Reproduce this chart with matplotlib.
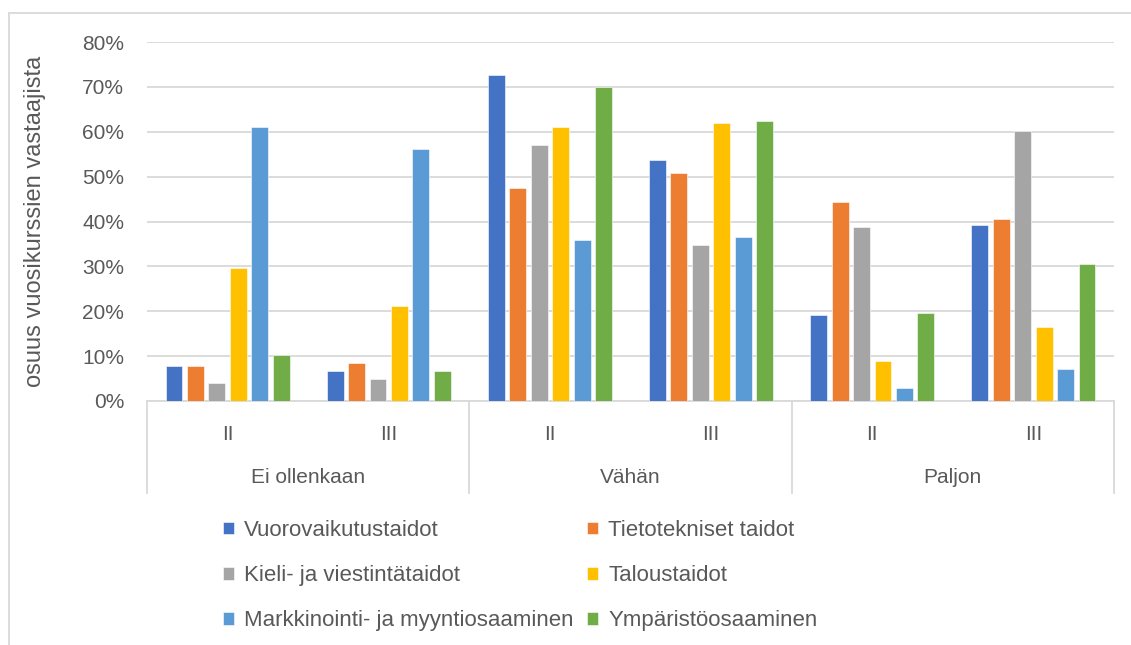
import numpy as np
import matplotlib.pyplot as plt
from matplotlib.lines import Line2D
from matplotlib.ticker import PercentFormatter

plt.rcParams['font.family'] = ['Liberation Sans', 'DejaVu Sans']

groups = ['Ei ollenkaan', 'Vähän', 'Paljon']
subgroups = ['II', 'III']
series = ['Vuorovaikutustaidot', 'Tietotekniset taidot', 'Kieli- ja viestintätaidot',
          'Taloustaidot', 'Markkinointi- ja myyntiosaaminen', 'Ympäristöosaaminen']
colors = ['#4472c4', '#ed7d31', '#a5a5a5', '#ffc000', '#5b9bd5', '#70ad47']

# one row per series, columns: Ei II, Ei III, Vähän II, Vähän III, Paljon II, Paljon III
vuorovaikutus = [7.8, 6.7, 72.7, 53.8, 19.2, 39.2]
tietotekniikka = [7.8, 8.5, 47.4, 50.7, 44.4, 40.6]
kieli = [4.0, 4.8, 57.0, 34.7, 38.8, 60.2]
talous = [29.6, 21.2, 61.1, 62.0, 9.0, 16.6]
markkinointi = [61.1, 56.1, 35.9, 36.6, 2.8, 7.1]
ymparisto = [10.3, 6.7, 70.0, 62.4, 19.5, 30.6]
values = [vuorovaikutus, tietotekniikka, kieli, talous, markkinointi, ymparisto]

txt = '#595959'
grid = '#d9d9d9'

fig = plt.figure(figsize=(11.31, 6.45), dpi=100)
ax = fig.add_axes([147/1131, 1-401/645, 967/1131, 359/645])

n = len(groups) * len(subgroups)
centers = np.arange(n) + 0.5
step = 0.133
width = 0.105
bars = []
for j, (vals, c) in enumerate(zip(values, colors)):
    b = ax.bar(centers + (j - 2.5) * step, vals, width=width, color=c,
               edgecolor='white', linewidth=0.4, zorder=3)
    bars.append(b)

ax.set_xlim(0, n)
ax.set_ylim(0, 80)
ax.set_yticks(np.arange(0, 81, 10))
ax.yaxis.set_major_formatter(PercentFormatter(decimals=0))
ax.tick_params(axis='y', length=0, pad=16.5, labelsize=15, labelcolor=txt)
ax.set_xticks([])
ax.grid(axis='y', color=grid, linewidth=1.3, zorder=0)
for s in ['top', 'right', 'left']:
    ax.spines[s].set_visible(False)
ax.spines['bottom'].set_color(grid)
ax.spines['bottom'].set_linewidth(1.3)

ax.set_ylabel('osuus vuosikurssien vastaajista', fontsize=17, color=txt)
ax.yaxis.set_label_coords(-0.1044, 0.5)

# two-level category axis
tr = ax.get_xaxis_transform()
for x in [0, 2, 4, 6]:
    ax.add_line(Line2D([x, x], [0, -0.256], transform=tr, color=grid,
                       linewidth=1.3, clip_on=False))
for i in range(n):
    ax.text(centers[i], -0.092, subgroups[i % 2], transform=tr, ha='center',
            va='center', fontsize=15, color=txt)
for g, name in enumerate(groups):
    ax.text(2 * g + 1, -0.214, name, transform=tr, ha='center', va='center',
            fontsize=15, color=txt)

# legend as two separate columns
leg_kw = dict(frameon=False, fontsize=16, handlelength=0.5, handleheight=0.5,
              handletextpad=0.45, labelspacing=1.09, labelcolor=txt,
              borderpad=0, borderaxespad=0)
fig.legend([bars[i] for i in (0, 2, 4)], [series[i] for i in (0, 2, 4)],
           loc='upper left', bbox_to_anchor=(223/1131, 1-520/645), **leg_kw)
fig.legend([bars[i] for i in (1, 3, 5)], [series[i] for i in (1, 3, 5)],
           loc='upper left', bbox_to_anchor=(587/1131, 1-520/645), **leg_kw)

# chart frame
fig.add_artist(Line2D([9/1131, 1], [1-13/645, 1-13/645], transform=fig.transFigure,
                      color=grid, linewidth=1.3))
fig.add_artist(Line2D([9/1131, 9/1131], [0, 1-13/645], transform=fig.transFigure,
                      color=grid, linewidth=1.3))

fig.savefig('out.png', dpi=100)
